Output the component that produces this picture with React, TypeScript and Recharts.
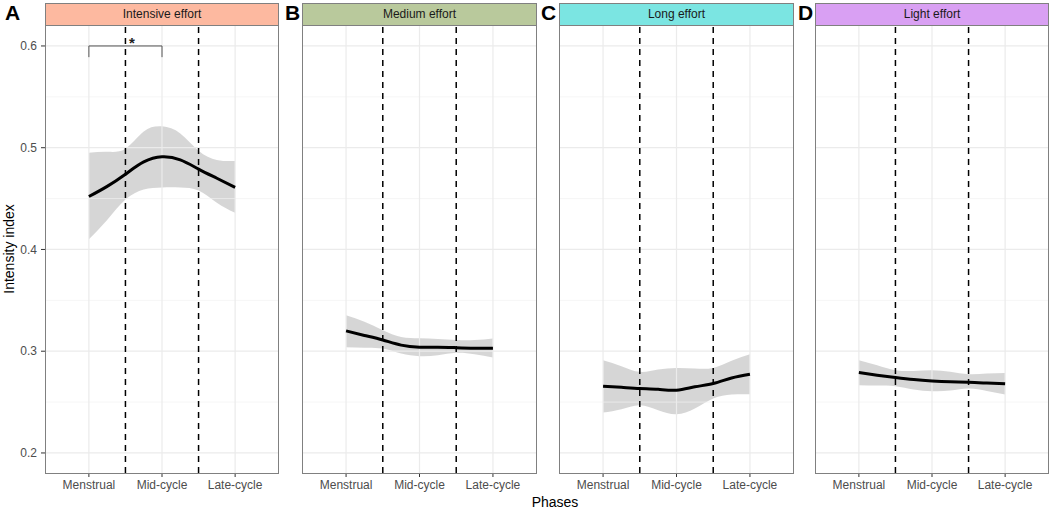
import React from "react";
import {
  ComposedChart,
  Line,
  Area,
  XAxis,
  YAxis,
  ReferenceLine,
  ReferenceDot,
} from "recharts";

// phase categories on the x axis, placed at 1, 2, 3
const phases = ["Menstrual", "Mid-cycle", "Late-cycle"];
const phaseTicks = [1, 2, 3];
const phaseBounds = [1.5, 2.5];

// sample positions along the smoothed curve
const positions = [1, 1.25, 1.5, 1.75, 2, 2.25, 2.5, 2.75, 3];

const yTicks = [0.2, 0.3, 0.4, 0.5, 0.6];
const yMinor = [0.25, 0.35, 0.45, 0.55];

// A: intensive effort
const intensiveFit = [0.452, 0.462, 0.474, 0.486, 0.491, 0.488, 0.479, 0.47, 0.461];
const intensiveLow = [0.41, 0.429, 0.449, 0.459, 0.461, 0.461, 0.458, 0.446, 0.436];
const intensiveHigh = [0.495, 0.496, 0.499, 0.516, 0.521, 0.514, 0.497, 0.488, 0.487];

// B: medium effort
const mediumFit = [0.32, 0.3155, 0.311, 0.306, 0.304, 0.304, 0.3035, 0.303, 0.303];
const mediumLow = [0.304, 0.3035, 0.3026, 0.2977, 0.2951, 0.296, 0.2984, 0.297, 0.2938];
const mediumHigh = [0.3354, 0.329, 0.3207, 0.314, 0.3128, 0.312, 0.311, 0.311, 0.3125];

// C: long effort
const longFit = [0.2656, 0.2645, 0.2633, 0.2625, 0.2617, 0.265, 0.2682, 0.2737, 0.2774];
const longLow = [0.2397, 0.243, 0.247, 0.242, 0.238, 0.2436, 0.2535, 0.2574, 0.2577];
const longHigh = [0.2912, 0.2853, 0.2797, 0.282, 0.2836, 0.283, 0.2836, 0.2905, 0.297];

// D: light effort
const lightFit = [0.279, 0.2764, 0.2741, 0.2721, 0.2708, 0.27, 0.2695, 0.2687, 0.2679];
const lightLow = [0.2666, 0.2663, 0.2656, 0.2623, 0.2607, 0.2613, 0.2633, 0.261, 0.2574];
const lightHigh = [0.2912, 0.2862, 0.2813, 0.2806, 0.2813, 0.2797, 0.2774, 0.278, 0.2787];

const FONT = "'Liberation Sans', Arial, Helvetica, sans-serif";
const BORDER = "#808080";
const TOP = 25;
const BOTTOM = 473;
const Y_DOMAIN = [0.1803, 0.6206];

const rows = (fit: number[], low: number[], high: number[]) =>
  positions.map((x, i) => ({ x, fit: fit[i], band: [low[i], high[i]] }));

const panels = [
  { letter: "A", title: "Intensive effort", color: "#fdb9a0", left: 45, width: 234, data: rows(intensiveFit, intensiveLow, intensiveHigh) },
  { letter: "B", title: "Medium effort", color: "#b9c99c", left: 302, width: 235, data: rows(mediumFit, mediumLow, mediumHigh) },
  { letter: "C", title: "Long effort", color: "#7be5e2", left: 559, width: 235, data: rows(longFit, longLow, longHigh) },
  { letter: "D", title: "Light effort", color: "#d9a0f3", left: 815, width: 234, data: rows(lightFit, lightLow, lightHigh) },
];

const letterLeft = [5, 285, 541, 798];

function Panel({ p, first }: { p: (typeof panels)[number]; first: boolean }) {
  const yw = first ? 45 : 0;
  return (
    <div style={{ position: "absolute", left: p.left - yw, top: 0 }}>
      <ComposedChart
        width={p.width + yw}
        height={511}
        data={p.data}
        margin={{ top: TOP, right: 0, bottom: 0, left: 0 }}
      >
        <XAxis
          dataKey="x"
          type="number"
          domain={[0.4, 3.6]}
          ticks={phaseTicks}
          tickFormatter={(v) => phases[v - 1]}
          axisLine={false}
          tickLine={{ stroke: "#333333" }}
          tickSize={4}
          tickMargin={3}
          height={511 - BOTTOM}
          tick={{ fill: "#4d4d4d", fontSize: 12, fontFamily: FONT }}
          allowDataOverflow
        />
        <YAxis
          type="number"
          domain={Y_DOMAIN}
          ticks={yTicks}
          hide={!first}
          width={45}
          axisLine={false}
          tickLine={{ stroke: "#333333" }}
          tickSize={4}
          tickMargin={4}
          tick={{ fill: "#4d4d4d", fontSize: 12, fontFamily: FONT }}
          allowDataOverflow
        />
        {yMinor.map((v) => (
          <ReferenceLine key={`mi${v}`} y={v} stroke="#f2f2f2" strokeWidth={0.7} />
        ))}
        {yTicks.map((v) => (
          <ReferenceLine key={`ma${v}`} y={v} stroke="#ebebeb" strokeWidth={1.2} />
        ))}
        {phaseTicks.map((v) => (
          <ReferenceLine key={`vx${v}`} x={v} stroke="#ebebeb" strokeWidth={1.2} />
        ))}
        <Area
          dataKey="band"
          type="natural"
          fill="#999999"
          fillOpacity={0.4}
          stroke="none"
          isAnimationActive={false}
        />
        <Line
          dataKey="fit"
          type="natural"
          stroke="#000000"
          strokeWidth={3}
          dot={false}
          isAnimationActive={false}
        />
        {phaseBounds.map((v) => (
          <ReferenceLine key={`b${v}`} x={v} stroke="#000000" strokeWidth={1.5} strokeDasharray="6 5" />
        ))}
        {first && (
          <ReferenceLine
            segment={[{ x: 1, y: 0.6 }, { x: 2, y: 0.6 }]}
            stroke="#555555"
            strokeWidth={1}
          />
        )}
        {first && (
          <ReferenceLine
            segment={[{ x: 1, y: 0.589 }, { x: 1, y: 0.6 }]}
            stroke="#555555"
            strokeWidth={1}
          />
        )}
        {first && (
          <ReferenceLine
            segment={[{ x: 2, y: 0.589 }, { x: 2, y: 0.6 }]}
            stroke="#555555"
            strokeWidth={1}
          />
        )}
        {first && (
          <ReferenceDot
            x={1.59}
            y={0.603}
            r={0}
            fill="none"
            stroke="none"
            label={{ value: "*", position: "center", fontSize: 15, fontWeight: "bold", fill: "#222", fontFamily: FONT }}
          />
        )}
      </ComposedChart>
    </div>
  );
}

export default function App() {
  return (
    <div style={{ position: "relative", width: 1053, height: 511, background: "#fff", fontFamily: FONT }}>
      <style>{"body{margin:0}"}</style>
      {panels.map((p, i) => (
        <Panel key={p.letter} p={p} first={i === 0} />
      ))}
      {panels.map((p) => (
        <React.Fragment key={`f${p.letter}`}>
          <div
            style={{
              position: "absolute",
              left: p.left,
              top: 3,
              width: p.width,
              height: TOP - 3 + 1,
              boxSizing: "border-box",
              border: `1px solid ${BORDER}`,
              background: p.color,
              color: "#1a1a1a",
              fontSize: 12,
              lineHeight: `${TOP - 5}px`,
              textAlign: "center",
            }}
          >
            {p.title}
          </div>
          <div
            style={{
              position: "absolute",
              left: p.left,
              top: TOP,
              width: p.width,
              height: BOTTOM - TOP + 1,
              boxSizing: "border-box",
              border: `1px solid ${BORDER}`,
              pointerEvents: "none",
            }}
          />
        </React.Fragment>
      ))}
      {panels.map((p, i) => (
        <div
          key={`l${p.letter}`}
          style={{
            position: "absolute",
            left: letterLeft[i],
            top: 1,
            fontSize: 21,
            fontWeight: "bold",
            color: "#000",
            lineHeight: "24px",
          }}
        >
          {p.letter}
        </div>
      ))}
      <div
        style={{
          position: "absolute",
          left: 9,
          top: 249,
          transform: "translate(-50%, -50%) rotate(-90deg)",
          fontSize: 14,
          whiteSpace: "nowrap",
          color: "#000",
        }}
      >
        Intensity index
      </div>
      <div
        style={{
          position: "absolute",
          left: 555,
          top: 502,
          transform: "translate(-50%, -50%)",
          fontSize: 14,
          whiteSpace: "nowrap",
          color: "#000",
        }}
      >
        Phases
      </div>
    </div>
  );
}
